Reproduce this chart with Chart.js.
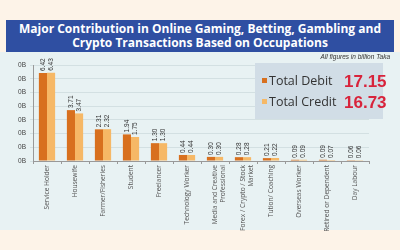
<!DOCTYPE html>
<html>
<head>
<meta charset="utf-8">
<script src="https://cdn.jsdelivr.net/npm/chart.js@4"></script>
<style>
  html, body { margin: 0; padding: 0; }
  body { width: 400px; height: 250px; background: #fdf3e8; position: relative; overflow: hidden; font-family: "Open Sans", sans-serif; }
  #title { position: absolute; left: 6px; top: 20px; width: 388px; height: 32px; background: #2f4fa2; color: #fff;
           font: bold 12px "Open Sans", sans-serif; text-align: center; line-height: 14px; padding-top: 2px; box-sizing: border-box; }
  #panel { position: absolute; left: 0; top: 52px; width: 400px; height: 178px; background: #e8f2f3; }
  #note { position: absolute; right: 10px; top: 53px; font: italic 6.5px "Liberation Sans", sans-serif; color: #333; }
  #legend { position: absolute; left: 255px; top: 63px; width: 128px; height: 56px; background: #d1dde6; }
  .row { position: absolute; left: 7px; height: 20px; line-height: 20px; font: 12.5px "Open Sans", sans-serif; color: #333; }
  .row i { display: inline-block; width: 5px; height: 5px; margin-right: 2px; vertical-align: middle; position: relative; top: -1px; }
  .row b { position: absolute; left: 82px; font: bold 17px "Liberation Sans Narrow", "Liberation Sans", sans-serif; font-stretch: condensed; color: #d8233b; }
  #wrap { position: absolute; left: 0; top: 52px; width: 400px; height: 195px; }
</style>
</head>
<body>
<div id="title">Major Contribution in Online Gaming, Betting, Gambling and<br>Crypto Transactions Based on Occupations</div>
<div id="panel"></div>
<div id="wrap"><canvas id="chart"></canvas></div>
<div id="note">All figures in billion Taka</div>
<div id="legend">
  <div class="row" style="top:9px"><i style="background:#d8701e"></i>Total Debit<b>17.15</b></div>
  <div class="row" style="top:30px"><i style="background:#f6b866"></i>Total Credit<b>16.73</b></div>
</div>
<script>
const categories = [
  'Service Holder', 'Housewife', 'Farmer/Fisheries', 'Student', 'Freelancer', 'Technology Worker',
  ['Media and Creative', 'Professional'], ['Forex / Crypto / Stock', 'Market'], 'Tution/ Coaching',
  'Overseas Worker', 'Retired or Dependent', 'Day Labour'
];
const debit = [6.42, 3.71, 2.31, 1.94, 1.30, 0.44, 0.30, 0.28, 0.21, 0.09, 0.09, 0.06];
const credit = [6.43, 3.47, 2.32, 1.75, 1.30, 0.44, 0.30, 0.28, 0.22, 0.09, 0.07, 0.06];

// values written vertically above each bar
const barLabels = {
  id: 'barLabels',
  afterDatasetsDraw(chart) {
    const ctx = chart.ctx;
    ctx.save();
    ctx.font = '6.5px "Liberation Sans", sans-serif';
    ctx.fillStyle = '#333';
    ctx.textAlign = 'left';
    ctx.textBaseline = 'middle';
    chart.data.datasets.forEach((ds, i) => {
      chart.getDatasetMeta(i).data.forEach((bar, j) => {
        ctx.save();
        ctx.translate(bar.x, bar.y - 2);
        ctx.rotate(-Math.PI / 2);
        ctx.fillText(ds.data[j].toFixed(2), 0, 0);
        ctx.restore();
      });
    });
    ctx.restore();
  }
};

new Chart(document.getElementById('chart'), {
  type: 'bar',
  data: {
    labels: categories,
    datasets: [
      { label: 'Total Debit', data: debit, backgroundColor: '#d8701e' },
      { label: 'Total Credit', data: credit, backgroundColor: '#f6b866' }
    ]
  },
  options: {
    responsive: true,
    maintainAspectRatio: false,
    animation: false,
    layout: { padding: { top: 13, right: 31, left: 0, bottom: 0 } },
    datasets: { bar: { categoryPercentage: 0.58, barPercentage: 1 } },
    plugins: { legend: { display: false }, tooltip: { enabled: false } },
    scales: {
      x: {
        afterFit: s => { s.height = 86; },
        grid: { drawOnChartArea: false, tickLength: 3, color: '#999' },
        border: { color: '#999' },
        ticks: { minRotation: 90, maxRotation: 90, autoSkip: false, color: '#555', padding: 1,
                 font: { size: 6.6, family: '"Open Sans", sans-serif' } }
      },
      y: {
        min: 0, max: 7,
        afterFit: s => { s.width = 33; },
        grid: { color: 'rgba(190,205,210,0.5)', tickLength: 3 },
        border: { color: '#999' },
        ticks: { stepSize: 1, color: '#444', padding: 4, font: { size: 6.5, family: '"Liberation Sans", sans-serif' },
                 callback: () => '0B' }
      }
    }
  },
  plugins: [barLabels]
});
</script>
</body>
</html>
